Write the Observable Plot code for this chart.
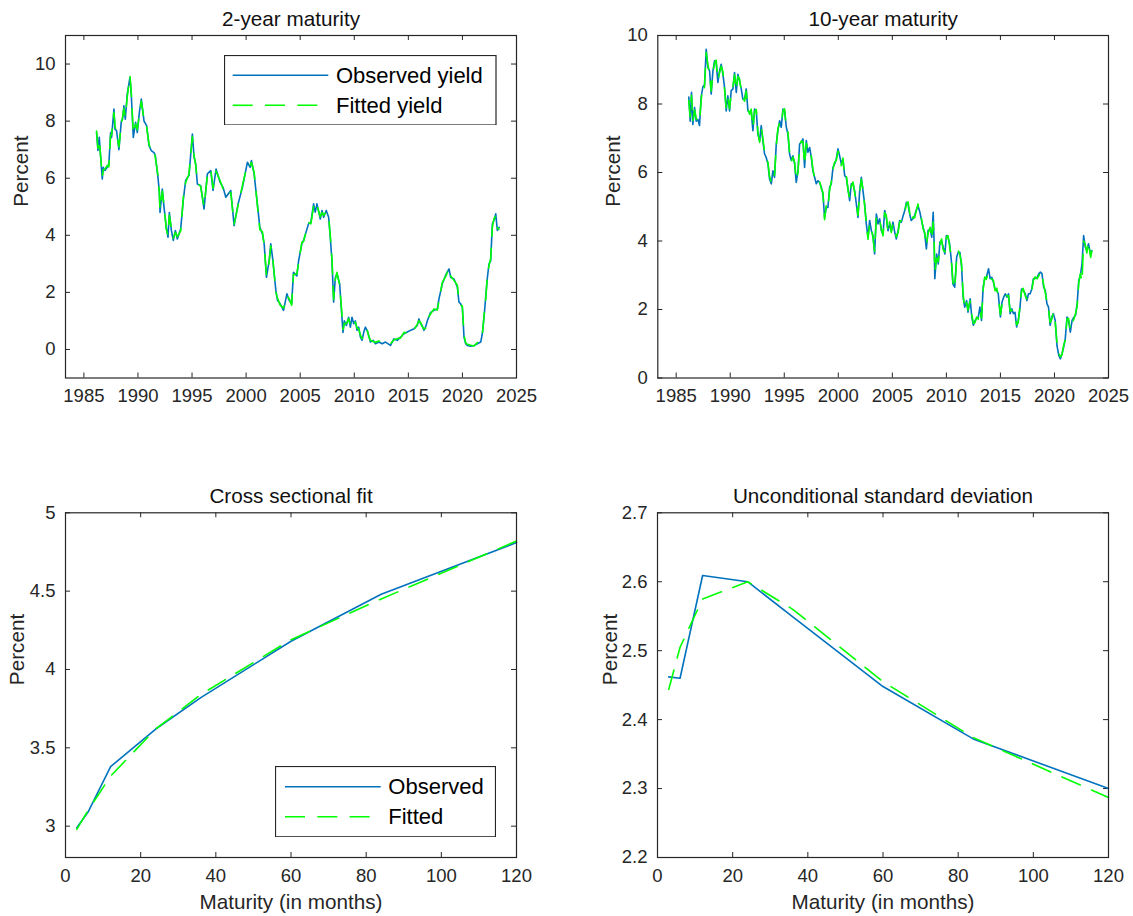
<!DOCTYPE html>
<html>
<head>
<meta charset="utf-8">
<script src="https://cdn.jsdelivr.net/npm/d3@7"></script>
<script src="https://cdn.jsdelivr.net/npm/@observablehq/plot@0.6"></script>
<style>
  body { margin: 0; background: #fff; }
  #wrap { position: relative; width: 1133px; height: 916px; overflow: hidden; background: #fff;
          font-family: "Liberation Sans", Arial, Helvetica, sans-serif; }
  .panel { position: absolute; }
  .legend { position: absolute; }
</style>
</head>
<body>
<div id="wrap"></div>
<script>
// ---------------- DATA ----------------
// 2-year maturity: decimal year, observed yield, fitted yield
const years2 = [1986.17,1986.30,1986.42,1986.70,1986.79,1986.94,1987.16,1987.31,1987.47,1987.56,1987.78,1987.87,1988.02,1988.24,1988.46,1988.58,1988.70,1988.83,1989.01,1989.26,1989.38,1989.57,1989.78,1989.94,1990.15,1990.31,1990.56,1990.80,1991.02,1991.23,1991.48,1991.60,1991.85,1991.98,1992.04,1992.25,1992.41,1992.62,1992.78,1992.90,1993.09,1993.27,1993.46,1993.64,1993.95,1994.20,1994.41,1994.72,1995.03,1995.19,1995.34,1995.49,1995.80,1996.11,1996.42,1996.73,1996.94,1997.22,1997.59,1997.87,1998.12,1998.58,1998.89,1999.26,1999.66,2000.12,2000.37,2000.49,2000.74,2001.27,2001.51,2001.67,2001.88,2002.13,2002.28,2002.44,2002.75,2002.90,2003.15,2003.46,2003.77,2003.98,2004.21,2004.38,2004.69,2004.85,2005.15,2005.31,2005.77,2005.99,2006.24,2006.39,2006.55,2006.86,2007.02,2007.17,2007.41,2007.63,2007.78,2007.94,2008.09,2008.25,2008.40,2008.65,2008.77,2008.96,2009.08,2009.27,2009.48,2009.64,2009.79,2009.95,2010.10,2010.26,2010.41,2010.57,2010.72,2010.88,2011.03,2011.18,2011.34,2011.49,2011.74,2011.96,2012.27,2012.58,2012.89,2013.35,2013.66,2013.97,2014.28,2014.59,2014.90,2015.20,2015.51,2015.82,2015.98,2016.13,2016.28,2016.44,2016.59,2016.75,2017.06,2017.37,2017.68,2017.83,2018.14,2018.45,2018.76,2018.91,2019.22,2019.53,2019.68,2019.84,2019.99,2020.15,2020.30,2020.45,2020.76,2021.07,2021.38,2021.69,2021.84,2022.00,2022.15,2022.31,2022.46,2022.61,2022.77,2022.92,2023.08,2023.23,2023.39];
const obs2 = [7.60,6.97,7.43,5.97,6.38,6.27,6.38,6.50,7.60,7.43,8.42,7.72,7.67,7.00,8.00,8.07,8.54,8.07,8.95,9.53,8.95,7.43,7.96,7.60,8.37,8.77,8.00,7.84,7.14,6.97,6.90,6.80,6.03,5.50,4.80,5.62,4.98,4.28,3.93,4.80,4.17,3.82,4.17,3.87,4.22,5.27,5.92,6.10,7.55,6.73,6.50,5.80,5.74,4.92,6.15,6.27,5.57,6.32,5.86,5.68,5.33,5.57,4.34,5.10,5.68,6.56,6.38,6.62,6.15,4.28,4.05,3.70,2.53,3.10,3.70,3.23,2.07,1.72,1.60,1.37,1.95,1.72,1.60,2.70,2.58,3.10,3.70,3.82,4.40,4.46,5.10,4.81,5.10,4.57,4.87,4.63,4.87,4.63,3.93,3.10,1.66,2.53,2.65,2.30,1.60,0.60,1.00,0.84,1.13,0.78,1.13,0.90,1.00,0.67,0.78,0.43,0.32,0.61,0.78,0.67,0.49,0.26,0.32,0.20,0.26,0.20,0.26,0.14,0.37,0.32,0.43,0.55,0.61,0.67,0.72,0.84,1.07,0.90,0.84,0.67,0.78,1.00,1.30,1.37,1.42,1.77,2.30,2.60,2.82,2.53,2.47,2.19,1.66,1.60,1.48,0.43,0.20,0.14,0.11,0.14,0.20,0.26,0.55,1.13,1.83,2.53,3.00,3.10,4.40,4.52,4.75,4.17,4.28];
const fit2 = [7.65,7.05,7.35,6.05,6.30,6.32,6.45,6.40,7.50,7.52,8.30,7.85,7.60,7.10,7.90,8.15,8.45,8.15,8.85,9.60,9.00,7.55,7.90,7.70,8.30,8.70,8.05,7.80,7.20,6.92,6.95,6.75,6.10,5.45,4.90,5.55,5.05,4.20,4.00,4.70,4.25,3.90,4.10,3.95,4.15,5.35,5.85,6.15,7.45,6.80,6.45,5.85,5.70,5.00,6.10,6.32,5.65,6.25,5.92,5.62,5.40,5.50,4.40,5.05,5.75,6.50,6.45,6.55,6.20,4.20,4.12,3.65,2.60,3.05,3.62,3.30,2.00,1.80,1.55,1.45,1.88,1.78,1.55,2.62,2.65,3.02,3.75,3.78,4.45,4.40,5.02,4.88,5.05,4.65,4.80,4.70,4.82,4.68,4.00,3.15,1.75,2.45,2.70,2.25,1.68,0.70,0.92,0.90,1.08,0.85,1.05,0.95,0.95,0.75,0.72,0.50,0.38,0.55,0.72,0.72,0.45,0.32,0.28,0.25,0.30,0.24,0.22,0.20,0.33,0.38,0.40,0.60,0.57,0.72,0.68,0.88,1.00,0.95,0.80,0.72,0.74,1.05,1.25,1.42,1.38,1.72,2.35,2.55,2.85,2.58,2.42,2.25,1.72,1.55,1.52,0.50,0.24,0.18,0.15,0.12,0.24,0.30,0.50,1.20,1.75,2.60,2.95,3.18,4.30,4.58,4.68,4.25,4.22];

// 10-year maturity
const years10 = [1986.17,1986.30,1986.42,1986.54,1986.70,1986.85,1987.01,1987.16,1987.31,1987.47,1987.62,1987.78,1987.93,1988.09,1988.24,1988.40,1988.55,1988.70,1988.86,1989.01,1989.17,1989.32,1989.48,1989.63,1989.78,1989.94,1990.09,1990.25,1990.40,1990.56,1990.71,1990.86,1991.02,1991.17,1991.33,1991.48,1991.64,1991.79,1991.94,1992.10,1992.25,1992.41,1992.56,1992.72,1992.87,1993.02,1993.18,1993.33,1993.49,1993.64,1993.80,1993.95,1994.10,1994.26,1994.41,1994.57,1994.72,1994.88,1995.03,1995.19,1995.34,1995.49,1995.65,1995.80,1995.96,1996.11,1996.27,1996.42,1996.57,1996.73,1996.88,1997.04,1997.19,1997.35,1997.50,1997.65,1997.81,1997.96,1998.12,1998.27,1998.43,1998.58,1998.73,1998.89,1999.04,1999.20,1999.35,1999.51,1999.66,1999.81,1999.97,2000.12,2000.28,2000.43,2000.59,2000.74,2000.90,2001.05,2001.20,2001.36,2001.51,2001.67,2001.82,2001.98,2002.13,2002.28,2002.44,2002.59,2002.75,2002.90,2003.06,2003.21,2003.36,2003.52,2003.67,2003.83,2003.98,2004.14,2004.29,2004.44,2004.60,2004.75,2004.90,2005.06,2005.22,2005.37,2005.53,2005.68,2005.84,2006.00,2006.15,2006.30,2006.45,2006.60,2006.75,2006.90,2007.06,2007.20,2007.37,2007.55,2007.70,2007.85,2008.00,2008.15,2008.30,2008.50,2008.65,2008.78,2008.87,2008.93,2009.10,2009.25,2009.40,2009.55,2009.70,2009.86,2010.00,2010.15,2010.30,2010.46,2010.60,2010.77,2010.95,2011.10,2011.25,2011.40,2011.55,2011.70,2011.87,2012.00,2012.20,2012.35,2012.50,2012.65,2012.80,2012.95,2013.10,2013.25,2013.40,2013.55,2013.70,2013.90,2014.05,2014.20,2014.35,2014.50,2014.66,2014.80,2015.00,2015.15,2015.30,2015.45,2015.60,2015.75,2015.90,2016.05,2016.20,2016.35,2016.50,2016.65,2016.80,2016.95,2017.10,2017.30,2017.45,2017.60,2017.75,2017.90,2018.05,2018.20,2018.40,2018.55,2018.70,2018.85,2019.00,2019.15,2019.30,2019.45,2019.60,2019.75,2019.90,2020.07,2020.23,2020.40,2020.55,2020.70,2020.85,2021.00,2021.16,2021.30,2021.47,2021.63,2021.80,2021.95,2022.10,2022.25,2022.40,2022.55,2022.70,2022.85,2023.00,2023.15,2023.35,2023.45];
const obs10 = [8.20,7.50,8.34,7.40,7.90,7.50,7.55,7.37,8.20,8.50,8.55,9.60,9.07,8.97,8.29,8.97,9.26,9.21,8.63,8.97,9.16,8.87,8.48,7.80,8.24,7.80,8.39,8.44,8.92,8.34,8.87,8.68,8.44,8.14,8.14,8.44,7.80,7.76,7.80,7.22,7.85,7.80,7.12,6.93,7.37,6.93,6.54,6.44,6.25,5.81,5.67,6.05,5.86,6.83,7.22,7.51,7.32,7.85,7.80,7.32,7.12,6.54,6.35,6.49,6.25,5.71,6.05,6.83,6.88,6.98,6.15,6.93,6.59,6.73,6.44,6.05,5.86,5.67,5.76,5.71,5.57,5.37,4.69,4.98,4.98,5.57,5.67,6.15,6.25,6.39,6.69,6.49,6.25,6.39,5.91,5.86,5.52,5.18,5.67,5.67,5.47,5.08,4.69,5.47,5.86,5.47,5.08,4.50,4.11,4.60,4.30,4.16,3.62,4.79,4.50,4.65,4.30,4.20,4.89,4.69,4.30,4.50,4.30,4.55,4.26,4.06,4.30,4.60,4.55,4.74,4.89,5.13,5.08,4.79,4.60,4.65,4.74,4.89,5.03,4.84,4.60,4.40,4.20,3.77,4.30,4.35,4.11,4.84,3.92,2.90,3.62,3.33,3.97,4.01,3.82,3.62,4.16,4.11,3.92,3.43,2.75,2.65,3.53,3.67,3.67,3.28,2.36,2.07,2.26,1.92,2.31,1.78,1.54,1.68,1.73,1.78,2.07,1.68,2.65,2.90,2.94,3.19,2.90,2.94,2.80,2.60,2.56,2.46,1.78,2.22,2.36,2.46,2.36,2.46,1.88,2.02,1.88,1.92,1.49,1.68,2.02,2.60,2.56,2.46,2.26,2.46,2.46,2.60,2.90,2.90,2.94,3.04,3.09,3.04,2.65,2.56,2.17,2.07,1.54,1.78,1.88,1.68,0.95,0.66,0.56,0.71,0.90,1.15,1.78,1.68,1.34,1.68,1.78,1.83,2.17,2.85,3.00,3.33,4.16,3.82,3.72,3.92,3.58,3.72];
const fit10 = [8.10,7.62,8.25,7.50,7.82,7.58,7.48,7.45,8.12,8.55,8.48,9.50,9.15,8.90,8.38,8.90,9.20,9.28,8.70,8.90,9.10,8.95,8.42,7.88,8.18,7.86,8.32,8.50,8.85,8.40,8.80,8.74,8.38,8.20,8.08,8.38,7.86,7.70,7.85,7.30,7.78,7.84,7.18,6.88,7.30,7.00,6.60,6.40,6.30,5.88,5.72,5.98,5.92,6.75,7.28,7.45,7.38,7.80,7.86,7.28,7.18,6.60,6.30,6.45,6.30,5.78,6.00,6.78,6.92,6.90,6.22,6.85,6.65,6.68,6.50,6.10,5.82,5.72,5.70,5.75,5.52,5.42,4.62,5.05,4.95,5.50,5.72,6.10,6.30,6.35,6.62,6.55,6.20,6.42,5.86,5.92,5.48,5.25,5.60,5.72,5.42,5.12,4.75,5.40,5.80,5.52,5.02,4.55,4.05,4.52,4.36,4.10,3.70,4.72,4.56,4.60,4.36,4.15,4.82,4.75,4.26,4.56,4.25,4.50,4.32,4.12,4.25,4.55,4.60,4.68,4.84,5.08,5.14,4.85,4.55,4.70,4.68,4.85,5.08,4.78,4.65,4.35,4.25,3.85,4.22,4.40,4.05,4.55,4.00,3.10,3.50,3.40,3.90,4.06,3.75,3.68,4.10,4.16,3.85,3.50,2.82,2.60,3.45,3.72,3.60,3.35,2.45,2.00,2.20,1.98,2.25,1.85,1.60,1.62,1.78,1.72,2.00,1.75,2.58,2.95,2.88,3.10,2.96,2.88,2.85,2.55,2.62,2.40,1.85,2.15,2.40,2.42,2.40,2.40,1.95,1.98,1.92,1.86,1.55,1.62,2.08,2.52,2.62,2.40,2.30,2.40,2.52,2.55,2.85,2.95,2.90,2.98,3.12,2.98,2.72,2.50,2.22,2.02,1.62,1.72,1.92,1.62,1.05,0.72,0.62,0.68,0.95,1.10,1.72,1.74,1.40,1.62,1.72,1.88,2.10,2.78,3.05,2.80,4.00,3.90,3.65,3.98,3.52,3.70];

// Cross-sectional fit and unconditional standard deviation, by maturity (months)
const maturities = [3, 6, 12, 24, 36, 60, 84, 120];
const csObserved = [2.99, 3.09, 3.38, 3.62, 3.82, 4.18, 4.48, 4.81];
const csFitted   = [2.98, 3.10, 3.32, 3.62, 3.84, 4.19, 4.45, 4.82];
const sdObserved = [2.462, 2.460, 2.609, 2.600, 2.549, 2.448, 2.372, 2.300];
const sdFitted   = [2.444, 2.505, 2.575, 2.600, 2.560, 2.455, 2.374, 2.287];

// Tick labels
const yearTicks = [1985, 1990, 1995, 2000, 2005, 2010, 2015, 2020, 2025];
const yieldTicks = [0, 2, 4, 6, 8, 10];
const maturityTicks = [0, 20, 40, 60, 80, 100, 120];
const csTicks = [3, 3.5, 4, 4.5, 5];
const sdTicks = [2.2, 2.3, 2.4, 2.5, 2.6, 2.7];

// ---------------- STYLE ----------------
const FONT = '"Liberation Sans", Arial, Helvetica, sans-serif';
const AX = "#262626";
const BLUE = "#0072BD";
const GREEN = "#00FF00";
const DASH = "20,12.3";
const LW = 1.6;

const wrap = document.getElementById("wrap");

function toRows(xs, ys) { return xs.map((x, i) => ({x, y: ys[i]})); }

function panel(o) {
  const innerW = o.width - o.mL - o.mR;
  const innerH = o.height - o.mT - o.mB;
  const tk = 5;
  const marks = [
    // inward ticks on all four sides
    Plot.ruleX(o.xTicks, {stroke: AX, strokeWidth: 1, insetTop: innerH - tk}),
    Plot.ruleX(o.xTicks, {stroke: AX, strokeWidth: 1, insetBottom: innerH - tk}),
    Plot.ruleY(o.yTicks, {stroke: AX, strokeWidth: 1, insetRight: innerW - tk}),
    Plot.ruleY(o.yTicks, {stroke: AX, strokeWidth: 1, insetLeft: innerW - tk}),
    Plot.line(toRows(o.xs, o.obs), {x: "x", y: "y", stroke: BLUE, strokeWidth: LW}),
    Plot.line(toRows(o.xsFit || o.xs, o.fit), {x: "x", y: "y", stroke: GREEN, strokeWidth: LW, strokeDasharray: DASH}),
    Plot.frame({stroke: AX, strokeWidth: 1.2}),
    Plot.axisX(o.xTicks, {tickSize: 0, tickPadding: 11, tickFormat: o.xFmt || (d => String(d)),
      fontSize: 18.5, fill: AX, label: null}),
    Plot.axisY(o.yTicks, {tickSize: 0, tickPadding: 10, tickFormat: o.yFmt || (d => String(d)),
      fontSize: 18.5, fill: AX, label: null}),
    Plot.text([o.title], {text: d => d, frameAnchor: "top", dy: o.titleDy, fontSize: 20.7, fill: "#111", lineAnchor: "middle"}),
    Plot.text(["Percent"], {text: d => d, frameAnchor: "left", dx: o.yLabDx, rotate: -90, fontSize: 20.7, fill: AX, lineAnchor: "middle"})
  ];
  if (o.xLabel) {
    marks.push(Plot.text([o.xLabel], {text: d => d, frameAnchor: "bottom", dy: 44.7, fontSize: 20.7, fill: AX, lineAnchor: "middle"}));
  }
  const svg = Plot.plot({
    width: o.width, height: o.height,
    marginLeft: o.mL, marginRight: o.mR, marginTop: o.mT, marginBottom: o.mB,
    x: {domain: o.xDomain},
    y: {domain: o.yDomain},
    style: {fontFamily: FONT, background: "transparent", overflow: "visible", color: AX},
    marks
  });
  const div = document.createElement("div");
  div.className = "panel";
  div.style.left = o.left + "px";
  div.style.top = o.top + "px";
  div.style.width = o.width + "px";
  div.style.height = o.height + "px";
  div.appendChild(svg);
  wrap.appendChild(div);
}

panel({left: 0, top: 0, width: 566, height: 458, mL: 65, mR: 50, mT: 35, mB: 80.5,
  xDomain: [1983.3, 2025], yDomain: [-1, 11], xTicks: yearTicks, yTicks: yieldTicks,
  xs: years2, obs: obs2, fit: fit2, title: "2-year maturity", titleDy: -16, yLabDx: -44.3});

panel({left: 566, top: 0, width: 567, height: 458, mL: 91.3, mR: 25, mT: 35, mB: 80.5,
  xDomain: [1983.3, 2025], yDomain: [0, 10], xTicks: yearTicks, yTicks: yieldTicks,
  xs: years10, obs: obs10, fit: fit10, title: "10-year maturity", titleDy: -16, yLabDx: -44});

panel({left: 0, top: 458, width: 566, height: 458, mL: 65, mR: 50, mT: 54.3, mB: 59,
  xDomain: [0, 120], yDomain: [2.8, 5], xTicks: maturityTicks, yTicks: csTicks,
  xs: maturities, obs: csObserved, fit: csFitted, title: "Cross sectional fit", titleDy: -16.3,
  yLabDx: -48.5, xLabel: "Maturity (in months)"});

panel({left: 566, top: 458, width: 567, height: 458, mL: 91, mR: 25, mT: 54.3, mB: 59,
  xDomain: [0, 120], yDomain: [2.2, 2.7], xTicks: maturityTicks, yTicks: sdTicks,
  xs: maturities, obs: sdObserved, fit: sdFitted, title: "Unconditional standard deviation", titleDy: -16.3,
  yLabDx: -47, xLabel: "Maturity (in months)"});

// ---------------- LEGENDS ----------------
function legend(left, top, w, h, lineX0, lineX1, textX, rowY, labels) {
  const svg = d3.create("svg").attr("class", "legend")
    .attr("width", w).attr("height", h)
    .style("left", left + "px").style("top", top + "px")
    .style("font-family", FONT);
  svg.append("rect").attr("x", 0.5).attr("y", 0.5).attr("width", w - 1).attr("height", h - 1)
    .attr("fill", "#fff").attr("stroke", AX).attr("stroke-width", 1.2);
  const styles = [{stroke: BLUE, dash: null}, {stroke: GREEN, dash: DASH}];
  labels.forEach((lab, i) => {
    svg.append("line").attr("x1", lineX0).attr("x2", lineX1).attr("y1", rowY[i]).attr("y2", rowY[i])
      .attr("stroke", styles[i].stroke).attr("stroke-width", LW)
      .attr("stroke-dasharray", styles[i].dash);
    svg.append("text").attr("x", textX).attr("y", rowY[i]).attr("dy", "0.35em")
      .attr("font-size", 22).attr("fill", "#000").text(lab);
  });
  wrap.appendChild(svg.node());
}

legend(224, 54.7, 272.5, 70.5, 8.7, 104.3, 112, [20.3, 50.3], ["Observed yield", "Fitted yield"]);
legend(275, 766, 221, 71.3, 10, 105.7, 113.3, [20.7, 50.7], ["Observed", "Fitted"]);
</script>
</body>
</html>
